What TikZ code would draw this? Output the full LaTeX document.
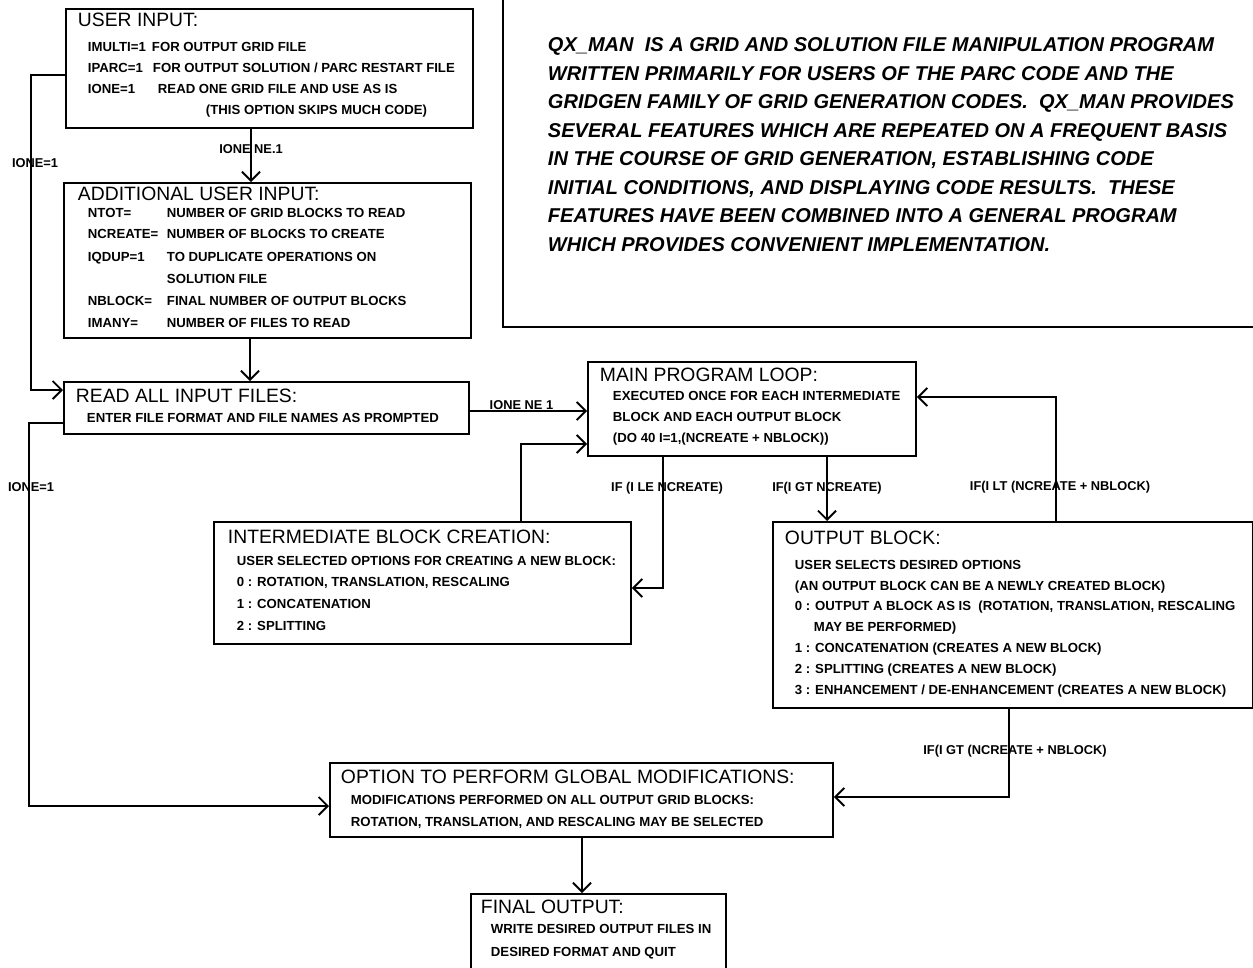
\documentclass[tikz,border=0pt]{standalone}
\usepackage{fontspec}
\setmainfont{Liberation Sans}
\usetikzlibrary{arrows.meta}

\newlength\pxu
\setlength\pxu{0.02cm}
\newcommand\hd{\mdseries\fontsize{11}{13}\selectfont}
\newcommand\bline[3]{\rule{0pt}{#1\pxu}\hspace*{#2\pxu}\smash{#3}\par}
\newcommand\col[2]{\makebox[#1\pxu][l]{#2}}
\newcommand\boxtext[3]{\parbox[t][#2\pxu][t]{#1\pxu}{\bfseries\fontsize{7.5}{9}\selectfont
  \offinterlineskip\parskip=0pt\parindent=0pt #3}}

\tikzset{
  box/.style={draw, line width=1.1pt, inner sep=0pt, anchor=north west},
  lbl/.style={font=\bfseries\fontsize{7.3}{8}\selectfont, inner sep=1pt}
}

\begin{document}
\begin{tikzpicture}[x=0.02cm, y=-0.02cm, line width=1.1pt,
    >={Straight Barb[length=1.8mm,width=3.6mm]}]
  \useasboundingbox (0,0) rectangle (1253,967);
  \clip (0,0) rectangle (1253,967);

  \node[box] (1) at (65,8) {\boxtext{407}{119}{
    \bline{18}{12}{\hd USER INPUT:}
    \bline{25}{22}{\col{64}{IMULTI=1}FOR OUTPUT GRID FILE}
    \bline{21}{22}{\col{65}{IPARC=1}FOR OUTPUT SOLUTION / PARC RESTART FILE}
    \bline{21}{22}{\col{70}{IONE=1}READ ONE GRID FILE AND USE AS IS}
    \bline{21}{140}{(THIS OPTION SKIPS MUCH CODE)}}};
  \node[box] (2) at (63,182) {\boxtext{407}{155}{
    \bline{18}{14}{\hd ADDITIONAL USER INPUT:}
    \bline{17}{24}{\col{79}{NTOT=}NUMBER OF GRID BLOCKS TO READ}
    \bline{21}{24}{\col{79}{NCREATE=}NUMBER OF BLOCKS TO CREATE}
    \bline{23}{24}{\col{79}{IQDUP=1}TO DUPLICATE OPERATIONS ON}
    \bline{22}{103}{SOLUTION FILE}
    \bline{22}{24}{\col{79}{NBLOCK=}FINAL NUMBER OF OUTPUT BLOCKS}
    \bline{22}{24}{\col{79}{IMANY=}NUMBER OF FILES TO READ}}};
  \node[box] (3) at (63,381) {\boxtext{405}{52}{
    \bline{21}{12}{\hd READ ALL INPUT FILES:}
    \bline{20}{23}{ENTER FILE FORMAT AND FILE NAMES AS PROMPTED}}};
  \node[box, anchor=south west] (4) at (502,328) {\parbox[t][400\pxu][t]{800\pxu}{%
    \bfseries\itshape\fontsize{11.4}{14}\selectfont
    \offinterlineskip\parskip=0pt\parindent=0pt
    \bline{124.5}{45}{QX\_MAN\ \ IS A GRID AND SOLUTION FILE MANIPULATION PROGRAM}
    \bline{28.5}{45}{WRITTEN PRIMARILY FOR USERS OF THE PARC CODE AND THE}
    \bline{28.5}{45}{GRIDGEN FAMILY OF GRID GENERATION CODES.\ \ QX\_MAN PROVIDES}
    \bline{28.5}{45}{SEVERAL FEATURES WHICH ARE REPEATED ON A FREQUENT BASIS}
    \bline{28.5}{45}{IN THE COURSE OF GRID GENERATION, ESTABLISHING CODE}
    \bline{28.5}{45}{INITIAL CONDITIONS, AND DISPLAYING CODE RESULTS.\ \ THESE}
    \bline{28.5}{45}{FEATURES HAVE BEEN COMBINED INTO A GENERAL PROGRAM}
    \bline{28.5}{45}{WHICH PROVIDES CONVENIENT IMPLEMENTATION.}}};
  \node[box] (5) at (587,361) {\boxtext{328}{94}{
    \bline{20}{12}{\hd MAIN PROGRAM LOOP:}
    \bline{19}{25}{EXECUTED ONCE FOR EACH INTERMEDIATE}
    \bline{21}{25}{BLOCK AND EACH OUTPUT BLOCK}
    \bline{21}{25}{(DO 40 I=1,(NCREATE + NBLOCK))}}};
  \node[box] (6) at (213,521) {\boxtext{417}{122}{
    \bline{22}{14}{\hd INTERMEDIATE BLOCK CREATION:}
    \bline{22}{23}{USER SELECTED OPTIONS FOR CREATING A NEW BLOCK:}
    \bline{21}{23}{0 : ROTATION, TRANSLATION, RESCALING}
    \bline{22}{23}{1 : CONCATENATION}
    \bline{22}{23}{2 : SPLITTING}}};
  \node[box] (7) at (772,521) {\boxtext{480}{186}{
    \bline{23}{12}{\hd OUTPUT BLOCK:}
    \bline{25}{22}{USER SELECTS DESIRED OPTIONS}
    \bline{21}{22}{(AN OUTPUT BLOCK CAN BE A NEWLY CREATED BLOCK)}
    \bline{20}{22}{0 : OUTPUT A BLOCK AS IS\ \ (ROTATION, TRANSLATION, RESCALING}
    \bline{21}{41}{MAY BE PERFORMED)}
    \bline{21}{22}{1 : CONCATENATION (CREATES A NEW BLOCK)}
    \bline{21}{22}{2 : SPLITTING (CREATES A NEW BLOCK)}
    \bline{21}{22}{3 : ENHANCEMENT / DE-ENHANCEMENT (CREATES A NEW BLOCK)}}};
  \node[box] (8) at (329,762) {\boxtext{503}{74}{
    \bline{21}{11}{\hd OPTION TO PERFORM GLOBAL MODIFICATIONS:}
    \bline{21}{21}{MODIFICATIONS PERFORMED ON ALL OUTPUT GRID BLOCKS:}
    \bline{22}{21}{ROTATION, TRANSLATION, AND RESCALING MAY BE SELECTED}}};
  \node[box] (9) at (470,893) {\boxtext{255}{120}{
    \bline{20}{10}{\hd FINAL OUTPUT:}
    \bline{20}{20}{WRITE DESIRED OUTPUT FILES IN}
    \bline{23}{20}{DESIRED FORMAT AND QUIT}}};

  \draw[->] (1.west |- 0,75) -- (31,75) -- node[lbl, pos=0.28, xshift=0.08cm] {IONE=1} (31,390) -- (3.west |- 0,390);
  \draw[->] (1.south -| 251,0) -- node[lbl, pos=0.38] {IONE NE.1} (2.north -| 251,0);
  \draw[->] (2.south -| 250,0) -- (3.north -| 250,0);
  \draw[->] (3.east |- 0,411) -- node[lbl, above, pos=0.44, inner sep=0.5pt] {IONE NE 1} (5.west |- 0,411);
  \draw[->] (6.north -| 521,0) |- (5.west |- 0,444);
  \draw[->] (5.south -| 663,0) |- node[lbl, pos=0.12, xshift=0.08cm] {IF (I LE NCREATE)} (6.east |- 0,588);
  \draw[->] (5.south -| 827,0) -- node[lbl, pos=0.48] {IF(I GT NCREATE)} (7.north -| 827,0);
  \draw[->] (7.north -| 1056,0) |- node[lbl, pos=0.137, xshift=0.08cm] {IF(I LT (NCREATE + NBLOCK)} (5.east |- 0,397);
  \draw[->] (7.south -| 1009,0) |- node[lbl, pos=0.24, xshift=0.12cm] {IF(I GT (NCREATE + NBLOCK)} (8.east |- 0,797);
  \draw[->] (3.west |- 0,423) -- (29,423) -- node[lbl, pos=0.167, xshift=0.04cm] {IONE=1} (29,806) -- (8.west |- 0,806);
  \draw[->] (8.south -| 582,0) -- (9.north -| 582,0);
\end{tikzpicture}
\end{document}
